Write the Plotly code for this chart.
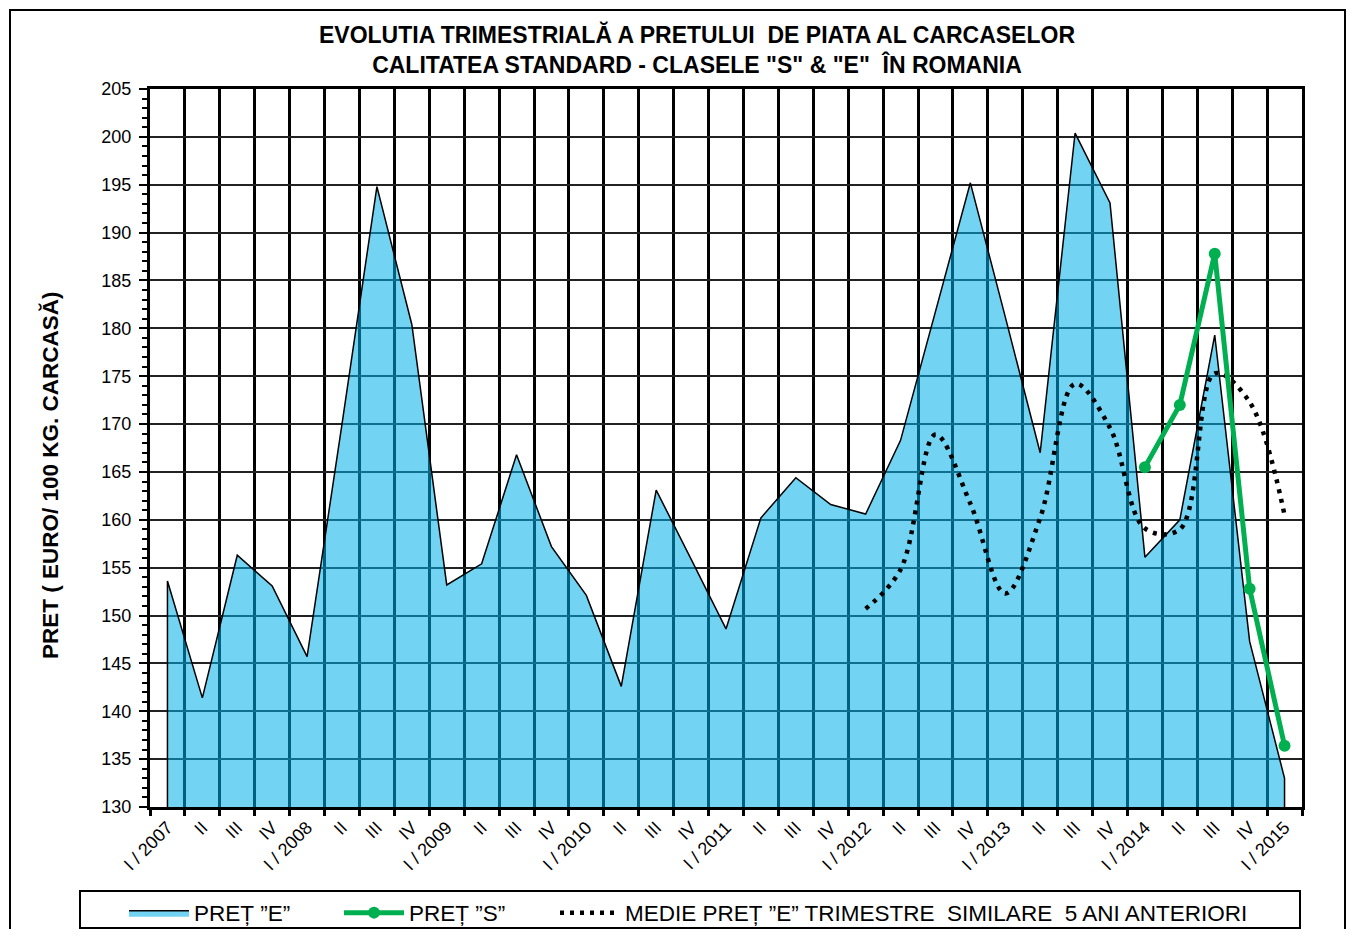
import plotly.graph_objects as go

# ---------------- data ----------------
quarter_labels = [
    "I / 2007", "II", "III", "IV",
    "I / 2008", "II", "III", "IV",
    "I / 2009", "II", "III", "IV",
    "I / 2010", "II", "III", "IV",
    "I / 2011", "II", "III", "IV",
    "I / 2012", "II", "III", "IV",
    "I / 2013", "II", "III", "IV",
    "I / 2014", "II", "III", "IV",
    "I / 2015",
]
pret_e = [153.6, 141.4, 156.3, 153.1,
          145.7, 170.0, 194.8, 180.4,
          153.2, 155.4, 166.8, 157.2,
          152.1, 142.6, 163.1, 155.9,
          148.6, 160.2, 164.4, 161.6,
          160.6, 168.3, 181.8, 195.2,
          181.2, 167.0, 200.4, 193.1,
          156.1, 160.0, 179.3, 147.3,
          133.0]
# PRET "S" starts at I / 2014 (index 28)
pret_s_start = 28
pret_s = [165.5, 172.0, 187.8, 152.8, 136.4]
# 5-year average starts at I / 2012 (index 20)
medie_start = 20
medie_e = [150.7, 154.8, 168.9, 161.7,
           152.3, 160.2, 174.2, 169.6,
           159.1, 159.0, 175.3, 172.3,
           160.5]

y_min, y_max = 130, 205

# ---------------- figure ----------------
n = len(quarter_labels)
xs = list(range(n))
FONT = "Arial, Liberation Sans, sans-serif"

fig = go.Figure()

# area "E" (closed polygon down to axis minimum)
fig.add_trace(go.Scatter(
    x=[xs[0]] + xs + [xs[-1]],
    y=[y_min] + pret_e + [y_min],
    fill="toself",
    fillcolor="rgba(0,175,232,0.55)",
    line=dict(color="black", width=1.5),
    mode="lines",
    name="PREȚ ”E”",
    legend="legend",
    hoverinfo="skip",
))

# dotted average
xm = xs[medie_start:medie_start + len(medie_e)]
fig.add_trace(go.Scatter(
    x=xm, y=medie_e,
    mode="lines",
    line=dict(color="black", width=4.5, dash="4px,6px", shape="spline", smoothing=1.0),
    name="MEDIE PREȚ ”E” TRIMESTRE\u00a0 SIMILARE\u00a0 5 ANI ANTERIORI",
    legend="legend3",
))

# green "S"
xsS = xs[pret_s_start:pret_s_start + len(pret_s)]
fig.add_trace(go.Scatter(
    x=xsS, y=pret_s,
    mode="lines+markers",
    line=dict(color="#00B050", width=5),
    marker=dict(color="#00B050", size=12),
    name="PREȚ ”S”",
    legend="legend2",
))

# page is rendered with an 8px body margin
OFF = 8
W, H = 1358 - 2 * OFF, 937 - 2 * OFF
# plot area in page pixels: x 150..1302, y 89..807
L = 150 - OFF
T = 89 - OFF
R = W - (1302 - OFF)
B = H - (807 - OFF)
pw, ph = W - L - R, H - T - B


def px_x(p):
    return (p - OFF - L) / pw


def px_y(p):
    return (H - B - (p - OFF)) / ph


boundaries = [i - 0.5 for i in range(n + 1)]
LEG_FONT = 22.5

fig.update_layout(
    width=W, height=H,
    margin=dict(l=L, r=R, t=T, b=B, autoexpand=False),
    paper_bgcolor="white",
    plot_bgcolor="white",
    font=dict(family=FONT, color="black", size=18),
    title=dict(
        text="<b>EVOLUTIA TRIMESTRIALĂ A PRETULUI\u00a0 DE PIATA AL CARCASELOR<br>"
             "CALITATEA STANDARD - CLASELE \"S\" &amp; \"E\"\u00a0 ÎN ROMANIA</b>",
        x=(697 - OFF) / W, xanchor="center",
        y=1 - 35 / H, yanchor="top",
        font=dict(size=23, family=FONT),
    ),
    xaxis=dict(
        range=[-0.5, n - 0.5],
        tickmode="array",
        tickvals=xs,
        ticktext=quarter_labels,
        tickangle=-45,
        ticks="",
        showgrid=False,
        zeroline=False,
        showline=True, linecolor="black", linewidth=3, mirror=True,
        tickfont=dict(size=18),
        minor=dict(
            tickmode="array",
            tickvals=boundaries,
            showgrid=True, gridcolor="black", gridwidth=3,
            ticks="outside", ticklen=6, tickwidth=3, tickcolor="black",
        ),
    ),
    yaxis=dict(
        range=[y_min, y_max],
        dtick=5, tick0=y_min,
        showgrid=True, gridcolor="#222222", gridwidth=1.5,
        zeroline=False,
        showline=True, linecolor="black", linewidth=3, mirror=True,
        ticks="outside", ticklen=8, tickwidth=2, tickcolor="black",
        ticklabelstandoff=4,
        tickfont=dict(size=18),
        minor=dict(dtick=1, ticks="outside", ticklen=5, tickwidth=2,
                   tickcolor="black", showgrid=False),
    ),
    legend=dict(x=px_x(124), y=px_y(913), xanchor="left", yanchor="middle",
                orientation="h", itemwidth=60, font=dict(size=LEG_FONT),
                bgcolor="rgba(0,0,0,0)"),
    legend2=dict(x=px_x(339), y=px_y(913), xanchor="left", yanchor="middle",
                 orientation="h", itemwidth=60, font=dict(size=LEG_FONT),
                 bgcolor="rgba(0,0,0,0)"),
    legend3=dict(x=px_x(555), y=px_y(913), xanchor="left", yanchor="middle",
                 orientation="h", itemwidth=60, font=dict(size=LEG_FONT),
                 bgcolor="rgba(0,0,0,0)"),
    showlegend=True,
)

# y-axis title as annotation
fig.add_annotation(
    text="<b>PRET ( EURO/ 100 KG. CARCASĂ)</b>",
    xref="paper", yref="paper",
    x=px_x(50), y=px_y(475),
    xanchor="center", yanchor="middle",
    textangle=-90, showarrow=False,
    font=dict(size=22.5, family=FONT),
)

# outer frame & legend box
fig.add_shape(type="rect", xref="paper", yref="paper",
              x0=px_x(10), x1=px_x(1345), y0=px_y(960), y1=px_y(10),
              line=dict(color="black", width=2), layer="below")
fig.add_shape(type="rect", xref="paper", yref="paper",
              x0=px_x(80), x1=px_x(1300), y0=px_y(928), y1=px_y(891),
              line=dict(color="black", width=2))

fig.write_html("out.html")
